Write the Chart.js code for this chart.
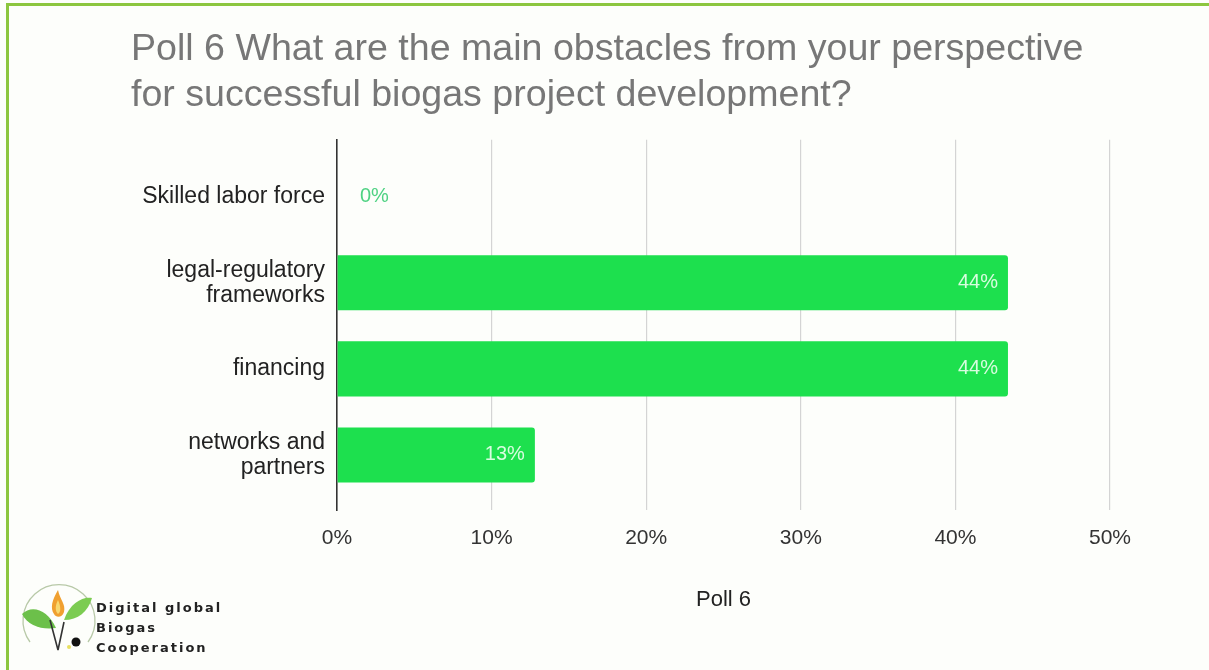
<!DOCTYPE html>
<html>
<head>
<meta charset="utf-8">
<script src="https://cdn.jsdelivr.net/npm/chart.js@4"></script>
<style>
  html, body { margin:0; padding:0; background:#fdfefb; }
  #wrap { position:relative; width:1209px; height:670px; overflow:hidden; }
  #frame { position:absolute; left:6px; top:3px; right:-10px; bottom:-10px;
           border-left:3px solid #8cc63f; border-top:3px solid #8cc63f; }
  canvas { position:absolute; left:0; top:0; }
  #logo { position:absolute; left:18px; top:580px; }
  #logotext { position:absolute; left:96px; top:598px; font-family:"DejaVu Sans", sans-serif;
              font-weight:bold; font-size:13px; letter-spacing:2px; line-height:20px; color:#222; }
</style>
</head>
<body>
<div id="wrap">
  <div id="frame"></div>
  <canvas id="c" width="1209" height="670"></canvas>
  <svg id="logo" width="80" height="80" viewBox="0 0 80 80">
    <path d="M12 62 A36 36 0 1 1 70 62" fill="none" stroke="#b8c9a8" stroke-width="1.3"/>
    <path d="M4 34 C14 24 30 30 38 48 C24 50 10 46 4 34 Z" fill="#6cc04a"/>
    <path d="M46 40 C52 22 66 16 74 18 C70 32 60 40 46 40 Z" fill="#7ccc52"/>
    <path d="M40 10 C34 20 32 28 36 34 C38 38 44 38 46 32 C48 24 42 20 40 10 Z" fill="#f0a030"/>
    <path d="M40 20 C37 26 37 31 40 34 C43 32 43 27 40 20 Z" fill="#f8d870"/>
    <path d="M32 40 L40 70 L46 42" fill="none" stroke="#333" stroke-width="1.6"/>
    <circle cx="58" cy="62" r="4.5" fill="#111"/>
    <circle cx="51" cy="67" r="2" fill="#e8e060"/>
  </svg>
  <div id="logotext">Digital global<br>Biogas<br>Cooperation</div>
</div>
<script>
const categories = [["Skilled labor force"], ["legal-regulatory", "frameworks"], ["financing"], ["networks and", "partners"]];
const values = [0, 43.4, 43.4, 12.8];
const valueLabels = ["0%", "44%", "44%", "13%"];
const xTicks = [0, 10, 20, 30, 40, 50];
const titleLines = ["Poll 6 What are the main obstacles from your perspective", "for successful biogas project development?"];
const xAxisTitle = "Poll 6";

const labelPlugin = {
  id: 'valueLabels',
  afterDatasetsDraw(chart) {
    const ctx = chart.ctx;
    const meta = chart.getDatasetMeta(0);
    ctx.save();
    ctx.font = '20px "Liberation Sans", Arial, sans-serif';
    ctx.textBaseline = 'middle';
    meta.data.forEach((bar, i) => {
      const txt = valueLabels[i];
      const w = bar.x - bar.base;
      if (w > 60) {
        ctx.fillStyle = 'rgba(232,255,236,0.92)';
        ctx.textAlign = 'right';
        ctx.fillText(txt, bar.x - 10, bar.y);
      } else {
        ctx.fillStyle = '#4fd283';
        ctx.textAlign = 'left';
        ctx.fillText(txt, bar.x + 23, bar.y);
      }
    });
    ctx.restore();
  }
};

new Chart(document.getElementById('c'), {
  type: 'bar',
  data: {
    datasets: [{
      data: values.map((v, i) => ({ x: v, y: i })),
      backgroundColor: '#1de04e',
      borderRadius: 3,
      borderSkipped: 'start',
      barPercentage: 0.64,
      categoryPercentage: 1
    }]
  },
  options: {
    indexAxis: 'y',
    responsive: false,
    animation: false,
    devicePixelRatio: 1,
    layout: { padding: { left: 131, right: 99, top: 0, bottom: 0 } },
    plugins: {
      legend: { display: false },
      tooltip: { enabled: false },
      title: {
        display: true,
        text: titleLines,
        align: 'start',
        color: '#777777',
        font: { family: '"Liberation Sans", Arial, sans-serif', size: 37.6, weight: 'normal', lineHeight: 1.22 },
        padding: { top: 27, bottom: 21 }
      }
    },
    scales: {
      x: {
        type: 'linear',
        min: 0, max: 50,
        afterBuildTicks(scale) { scale.ticks = xTicks.map(v => ({ value: v })); },
        afterFit(scale) { scale.height = 160; },
        grid: {
          drawTicks: false,
          color: ctx => ctx.index === 0 ? 'rgba(0,0,0,0)' : '#d4d4d4',
          lineWidth: 1.2
        },
        border: { display: false },
        ticks: {
          padding: 16,
          color: '#333',
          font: { family: '"Liberation Sans", Arial, sans-serif', size: 21 },
          callback: v => v + '%'
        },
        title: {
          display: true,
          text: xAxisTitle,
          color: '#222',
          font: { family: '"Liberation Sans", Arial, sans-serif', size: 22 },
          padding: { top: 0, bottom: 57 }
        }
      },
      y: {
        type: 'linear',
        reverse: true,
        offset: false,
        min: -0.663, max: 3.64,
        afterBuildTicks(scale) { scale.ticks = categories.map((c, i) => ({ value: i })); },
        afterFit(scale) { scale.width = 206; },
        grid: { display: false, drawTicks: false },
        border: { display: true, color: '#333', width: 1.6 },
        ticks: {
          padding: 12,
          color: '#222',
          font: { family: '"Liberation Sans", Arial, sans-serif', size: 23, lineHeight: 1.1 },
          callback: v => categories[v]
        }
      }
    }
  },
  plugins: [labelPlugin]
});
</script>
</body>
</html>
